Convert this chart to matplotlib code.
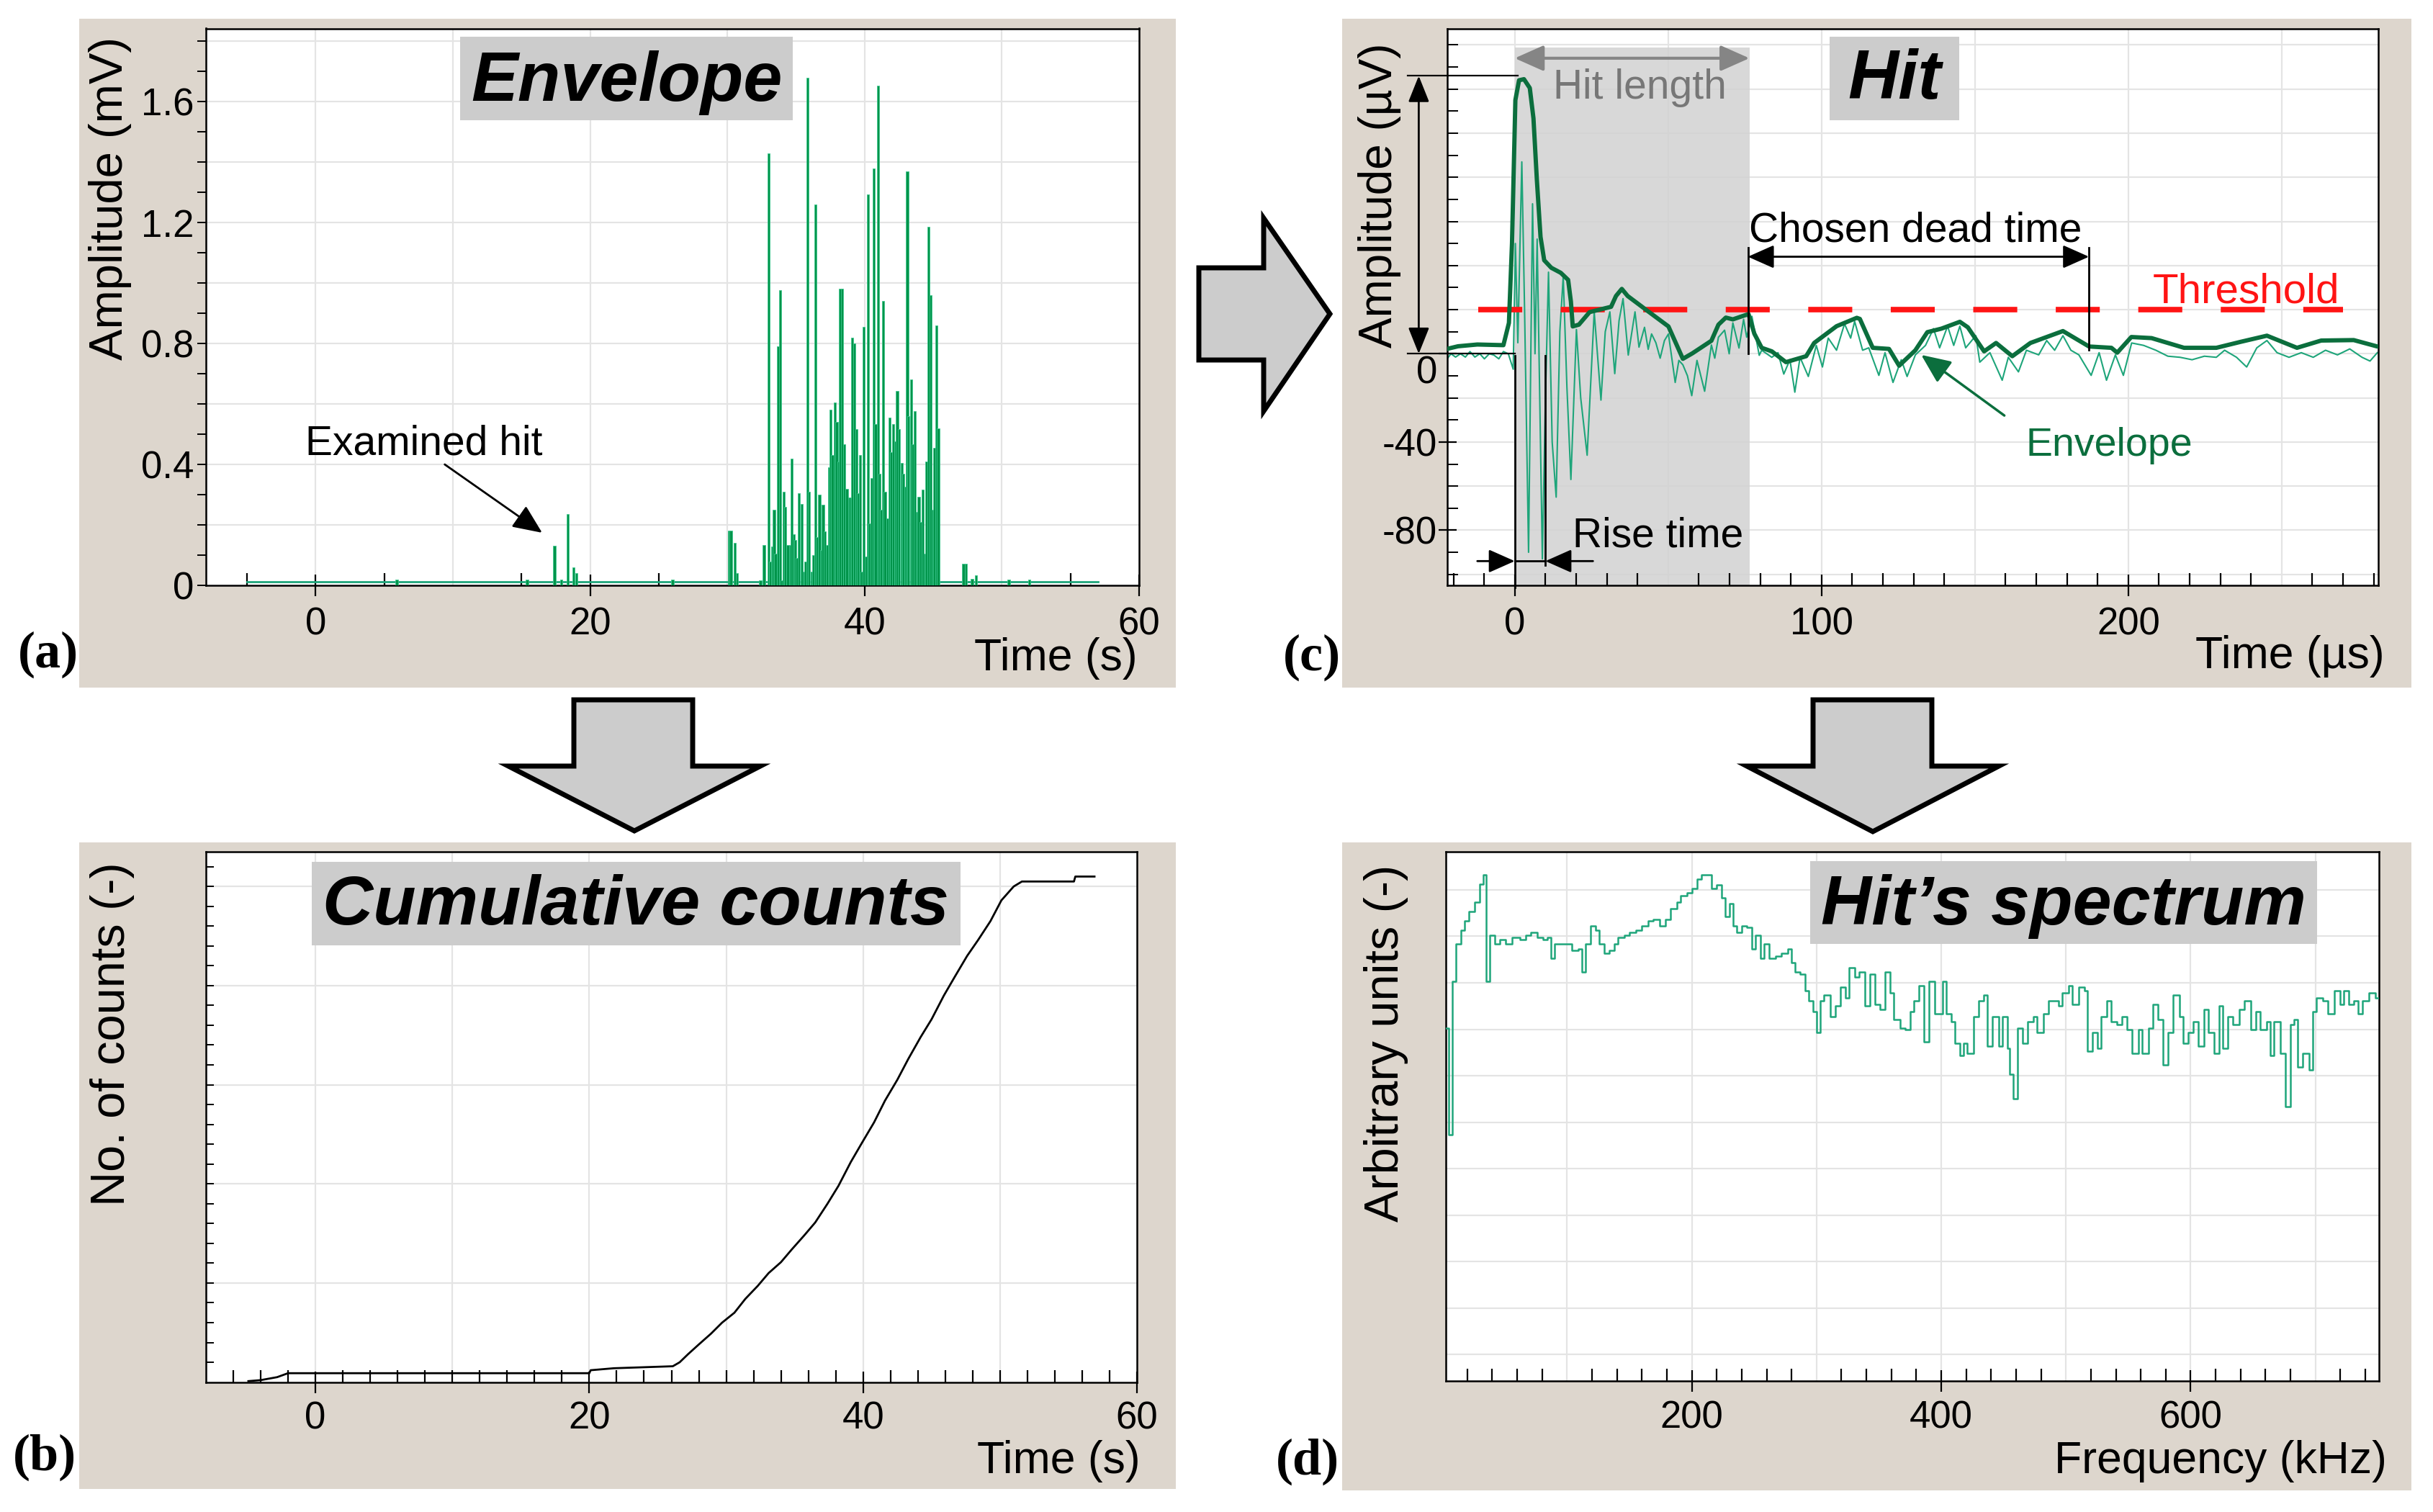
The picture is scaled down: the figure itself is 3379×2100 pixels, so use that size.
import numpy as np
import matplotlib.pyplot as plt
from matplotlib.patches import Rectangle, Polygon
from matplotlib.ticker import FixedLocator, NullFormatter
from matplotlib.transforms import blended_transform_factory

plt.rcParams['font.family'] = ['Liberation Sans', 'DejaVu Sans']

# ---------------- data ----------------
# (a) envelope: spike time (s), peak amplitude (mV)
env_spikes = [
    (5.9, 0.02), (15.4, 0.02), (17.4, 0.13), (17.9, 0.02), (18.36, 0.235), (18.8, 0.06),
    (19.0, 0.04), (26.0, 0.02),
    (30.1, 0.18), (30.25, 0.18), (30.55, 0.14), (30.7, 0.04), (32.4, 0.017), (32.66, 0.133),
    (32.99, 1.43), (33.1, 0.078), (33.25, 0.128), (33.4, 0.25), (33.5, 0.105), (33.7, 0.79),
    (33.83, 0.977), (33.95, 0.017), (34.1, 0.31), (34.2, 0.26), (34.4, 0.133), (34.57, 0.133),
    (34.7, 0.42), (34.83, 0.17), (34.96, 0.15), (35.08, 0.09), (35.2, 0.305), (35.4, 0.27),
    (35.57, 0.045), (35.7, 0.078), (35.84, 1.678), (35.96, 0.31), (36.14, 0.045), (36.26, 0.1),
    (36.4, 1.26), (36.52, 0.16), (36.7, 0.30), (36.83, 0.117), (36.96, 0.267), (37.1, 0.178),
    (37.25, 0.133), (37.4, 0.39), (37.53, 0.58), (37.65, 0.43), (37.83, 0.605), (37.96, 0.54),
    (38.09, 0.41), (38.22, 0.98), (38.36, 0.98), (38.5, 0.466), (38.7, 0.32), (38.87, 0.29),
    (38.99, 0.29), (39.1, 0.82), (39.25, 0.80), (39.4, 0.516), (39.5, 0.305), (39.65, 0.43),
    (39.8, 0.045), (39.93, 0.855), (40.09, 0.095), (40.23, 1.293), (40.35, 0.205), (40.49, 0.355),
    (40.66, 1.38), (40.8, 0.533), (40.96, 1.653), (41.1, 0.37), (41.2, 0.25), (41.36, 0.94),
    (41.48, 0.31), (41.65, 0.222), (41.8, 0.555), (41.95, 0.44), (42.09, 0.533), (42.23, 0.477),
    (42.37, 0.644), (42.52, 0.516), (42.7, 0.405), (42.83, 0.37), (42.96, 0.327), (43.1, 1.37),
    (43.2, 0.56), (43.4, 0.68), (43.53, 0.466), (43.65, 0.577), (43.8, 0.244), (43.95, 0.294),
    (44.09, 0.21), (44.23, 0.316), (44.38, 0.105), (44.52, 0.41), (44.66, 1.185), (44.8, 0.96),
    (44.96, 0.25), (45.1, 0.455), (45.22, 0.86), (45.36, 0.52),
    (47.2, 0.072), (47.4, 0.072), (47.83, 0.022), (48.1, 0.033), (50.5, 0.02), (52.0, 0.02),
]
env_floor = 0.011
env_span = (-5, 57)

# (b) cumulative counts: time (s), counts (arb.)
cum_counts = [
    (-4.9, 1), (-4.0, 2), (-2.8, 5), (-2.0, 9), (20.0, 9), (20.1, 12), (21.8, 14), (26.1, 16),
    (26.6, 20), (27.2, 28), (28.0, 38), (28.9, 49), (29.7, 60), (30.6, 70), (31.4, 84),
    (32.3, 97), (33.1, 110), (34.0, 121), (34.8, 134), (35.7, 148), (36.5, 161), (37.4, 180),
    (38.2, 198), (39.1, 222), (39.9, 241), (40.8, 262), (41.6, 284), (42.5, 305), (43.3, 326),
    (44.2, 348), (45.0, 366), (45.9, 390), (46.7, 409), (47.6, 430), (48.4, 446), (49.3, 465),
    (50.1, 486), (51.0, 500), (51.6, 505), (55.4, 505), (55.5, 510), (56.9, 510),
]

# (c) hit: raw waveform and its envelope, time (us), amplitude (uV)
hit_raw = [
    (-22.4, -3), (-20.8, 0), (-19.3, -1.5), (-17.7, 0), (-16.1, -1.5), (-14.6, 1), (-13.0, -1.5),
    (-11.4, 0), (-9.9, -2.3), (-8.3, 0), (-6.8, -0.6), (-5.2, -2.3), (-3.7, 1), (-2.1, 0),
    (-0.5, -7), (0.2, 50), (1.0, 5), (2.3, 87), (3.2, 20), (4.5, -90), (5.8, 68), (6.6, 0),
    (7.3, 52), (9.0, -93), (10.0, -20), (11.0, 37), (12.2, -40), (13.5, -65), (14.7, 10),
    (15.8, 35), (17.0, -15), (18.3, -57), (20.1, 11), (21.5, -20), (23.6, -46), (25.9, 19),
    (28.1, -21), (29.5, 10), (31.0, 19), (32.6, -9), (34.0, 15), (35.3, 25), (37.0, -0.6),
    (39.2, 19), (40.5, 3), (42.3, 12), (43.5, 2), (44.6, 9), (46.0, 5), (47.4, -2), (48.8, 6),
    (50.1, 9), (52.3, -13), (53.5, -3), (54.8, -5), (56.3, -10), (57.7, -19), (59.4, -3),
    (61.9, -17), (64.1, 4), (65.2, -2), (66.4, 7.5), (68.4, 10.7), (69.9, 0), (71.1, 14),
    (73.1, 2.6), (74.6, 15.6), (75.6, 7.5), (77.3, 17), (79.7, -0.7),
    (80.5, 1.6), (83.8, -1.6), (85.8, 0.5), (87.7, -9.2), (89.7, -2.7), (91.3, -17.4),
    (93.0, -1.6), (95.7, -10.3), (98.3, 3.8), (100.3, -6), (102.2, 7.1), (104.9, 1.6),
    (107.5, 13.6), (109.5, 7.1), (110.8, 14.7), (113.4, 1.6), (115.4, 2.7), (118.7, -9.8),
    (120.7, 0.5), (123.3, -13), (126.0, -2.7), (127.9, -10.3), (130.6, -0.5), (133.9, 3.8),
    (136.5, 11.4), (138.5, 2.7), (141.1, 12.5), (143.1, 3.8), (145.1, 12.5), (147.0, 2.7),
    (150.3, 8.2), (151.6, -3.8), (154.9, 0.5), (158.9, -12), (160.9, -1.6), (164.2, -8.2),
    (166.8, 1.6), (170.8, -0.5), (173.4, 6), (176.0, 1.6), (178.7, 8.2), (181.3, 1.6),
    (183.9, -0.5), (187.9, -9.8), (190.5, 0.5), (192.9, -12), (195.8, -0.5), (198.4, -9.8),
    (201.1, 4.9), (205.0, 3.8), (209.0, 1.6), (212.9, -1.1), (216.9, -1.6), (220.8, -2.7),
    (224.8, -1.1), (228.7, -1.6), (231.4, 1.6), (235.3, -1.6), (238.6, -6), (241.9, 2.7),
    (245.2, 6), (248.5, 0.5), (252.4, -1.6), (256.4, 0.5), (260.3, -1.6), (264.3, 1.6),
    (268.2, -0.5), (272.2, 2.2), (276.2, -1.6), (278.8, -3.3), (281.2, 0.5),
]
hit_env = [
    (-22.4, 2.1), (-18.5, 3.4), (-12.2, 4.2), (-3.7, 3.9), (-1.9, 14), (-0.9, 50), (0.2, 115),
    (1.4, 124), (3.0, 124.5), (4.9, 120.5), (6.1, 106.7), (7.2, 79), (8.4, 53), (9.6, 42.4),
    (11.9, 39), (15.0, 36.7), (17.4, 33.5), (18.3, 23.7), (18.9, 12.4), (20.9, 13.2),
    (24.4, 18.9), (31.4, 21.3), (33.0, 26.2), (34.9, 29.4), (36.8, 26.2), (43.8, 18.9),
    (50.1, 12.4), (54.8, -2.3), (57.9, 0.2), (64.1, 5.9), (66.4, 13.2), (68.8, 16.4),
    (71.1, 15.6), (76.2, 18), (78.1, 9.1), (80.5, 2.7), (83.8, 1.1), (88.4, -3.8), (95.0, -1.1),
    (97.6, 4.9), (104.9, 12.5), (111.5, 16.3), (112.5, 15.8), (116.7, 2.7), (122.0, 2.2),
    (125.3, -5.4), (130.6, 1.6), (134.5, 9.8), (139.1, 11.4), (145.1, 14.5), (147.7, 12),
    (153.0, 1.1), (156.9, 4.9), (162.2, -1.1), (168.1, 4.9), (178.7, 10.3), (187.2, 3.3),
    (194.5, 2.7), (196.4, 0.5), (201.0, 7.6), (207.6, 7.1), (218.2, 2.7), (228.7, 2.7),
    (236.6, 5.4), (245.2, 8.2), (255.0, 2.7), (262.9, 6.0), (273.5, 6.2), (281.2, 3.3),
]
threshold = 20
threshold_span = (-12, 270)
hit_start, hit_end = 0, 76.5
rise_end = 10
dead_end = 187.2
peak_amp = 126

# (d) hit spectrum: frequency (kHz), magnitude (arb.)
spectrum = [
    (2.8, 76), (5, 53), (8, 86), (11, 94), (15, 97), (18, 99), (21, 101), (26, 103), (30, 107),
    (33, 109), (35, 86), (38, 96), (42, 94), (46, 95), (51, 94), (56, 95.5), (62, 95), (67, 96),
    (71, 96.6), (76, 95.5), (81, 95), (84, 95.5), (87, 91), (90, 94), (96, 94), (100, 94),
    (104, 92.6), (109, 93), (112, 88), (115, 94), (119, 98), (123, 97), (126, 94), (130, 92),
    (134, 92.6), (138, 94), (141, 95.5), (146, 96), (150, 96.6), (155, 97), (160, 98), (165, 99),
    (169, 99.4), (174, 98), (179, 99.4), (183, 101.7), (188, 103), (191, 104.5), (196, 105),
    (200, 106), (204, 108), (208, 109), (212, 109), (216, 106), (220, 106.8), (224, 104),
    (227, 100), (230, 102.8), (233, 98), (236, 96.6), (240, 98), (244, 97.7), (248, 93),
    (251, 96), (255, 91), (258, 94), (262, 91), (267, 91.5), (272, 92), (277, 93), (280, 90),
    (283, 88), (287, 87.5), (291, 84), (294, 81.8), (297, 79.5), (300, 75), (303, 81.8),
    (306, 83), (311, 78.4), (315, 80.7), (319, 84.7), (323, 82.4), (326, 89), (331, 87),
    (334, 88), (339, 80.7), (343, 87.5), (347, 81), (351, 80), (355, 88), (359, 83.5),
    (362, 77.8), (367, 76), (371, 75.6), (375, 79.5), (378, 81.8), (382, 85), (386, 73),
    (390, 86), (395, 79), (401, 86), (404, 79), (408, 77.3), (411, 72.7), (415, 70), (418, 72.7),
    (421, 70.5), (426, 78.4), (430, 81.8), (434, 83), (437, 72), (441, 78.4), (446, 72),
    (449, 78.4), (453, 71.6), (455, 66), (458, 60.8), (461, 76), (465, 72.7), (469, 77.3),
    (474, 78.4), (477, 75), (482, 79), (486, 81.8), (490, 81.8), (494, 80.7), (497, 83.5),
    (502, 85), (505, 81), (510, 84.7), (515, 84), (517, 71), (521, 75), (525, 71.6), (528, 78.4),
    (533, 81.8), (536, 77.3), (541, 76.7), (545, 78.4), (549, 75.6), (553, 70.5), (558, 75.6),
    (561, 70.5), (566, 76), (570, 81), (574, 77.8), (578, 68), (582, 75), (586, 83), (591, 78.4),
    (594, 72.7), (598, 75), (602, 77.3), (606, 72), (611, 80), (614, 75), (619, 70.5),
    (623, 80.7), (626, 71.6), (630, 78.4), (634, 76.7), (639, 80), (643, 81.8), (648, 75.6),
    (652, 79.5), (656, 75.6), (661, 77.3), (664, 70), (667, 77.3), (672, 70.5), (676, 59),
    (680, 76.7), (683, 77.8), (686, 67.6), (690, 70.5), (695, 67), (698, 79.5), (701, 82.4),
    (706, 81.8), (710, 79), (715, 84), (720, 81), (723, 84), (727, 81), (731, 81.8), (734, 79),
    (738, 81.8), (743, 83.5), (748, 82.4), (751, 82.4),
]

# ---------------- layout helpers (pixel coords of a 3380x2100 canvas) ----------------
W, H = 3380, 2100
BEIGE = '#ddd6cd'
BOXGRAY = '#cccccc'
GRID = '#e4e4e4'
TEAL = '#1ea57a'
DARKGREEN = '#0b6e3d'


def fx(x):
    return x / W


def fy(y):
    return 1 - y / H


def rect(x0, y0, x1, y1):
    return [fx(x0), fy(y1), fx(x1) - fx(x0), fy(y0) - fy(y1)]


fig = plt.figure(figsize=(W / 100, H / 100), dpi=100)
fig.patch.set_facecolor('white')

# beige panel backgrounds
for x0, y0, x1, y1 in [(110, 26, 1633, 955), (110, 1170, 1633, 2068),
                       (1864, 26, 3349, 955), (1864, 1170, 3349, 2070)]:
    fig.add_artist(Rectangle((fx(x0), fy(y1)), fx(x1) - fx(x0), fy(y0) - fy(y1),
                             transform=fig.transFigure, facecolor=BEIGE,
                             edgecolor='none', zorder=-5))

ax_a = fig.add_axes(rect(286, 39.5, 1582, 813))
ax_b = fig.add_axes(rect(286, 1183, 1579, 1919.6))
ax_c = fig.add_axes(rect(2010, 39.5, 3303, 813))
ax_d = fig.add_axes(rect(2008, 1183, 3304, 1918))


def frame(ax):
    ax.set_facecolor('white')
    for s in ax.spines.values():
        s.set_linewidth(1.8)
        s.set_color('black')


def grid(ax, xs, ys):
    for g in xs:
        ax.axvline(g, color=GRID, lw=1.6, zorder=0.5)
    for g in ys:
        ax.axhline(g, color=GRID, lw=1.6, zorder=0.5)


def xticks(ax, major, minor, pad):
    ax.xaxis.set_major_locator(FixedLocator(major))
    ax.xaxis.set_minor_locator(FixedLocator(minor))
    ax.tick_params(axis='x', which='major', direction='inout', length=22, width=1.6,
                   labelsize=38, pad=pad)
    ax.tick_params(axis='x', which='minor', direction='in', length=12, width=1.6)


for ax in (ax_a, ax_b, ax_c, ax_d):
    frame(ax)

# ---------------- (a) envelope ----------------
t_a, a_a = np.array(env_spikes).T
ax_a.set_xlim(-8, 60)
ax_a.set_ylim(0, 1.842)
grid(ax_a, np.arange(0, 60, 10), np.arange(0.2, 1.81, 0.2))
ax_a.plot(env_span, [env_floor, env_floor], color=TEAL, lw=2, zorder=2)
ax_a.bar(t_a, a_a, width=0.17, color='#00944a', edgecolor='#40c890', linewidth=0.6, zorder=3)
xticks(ax_a, [0, 20, 40, 60], [-5, 5, 15, 25, 35, 45, 55], pad=10)
ax_a.set_xticklabels(['0', '20', '40', '60'])
ax_a.yaxis.set_major_locator(FixedLocator([0, 0.4, 0.8, 1.2, 1.6]))
ax_a.yaxis.set_minor_locator(FixedLocator(np.arange(0.1, 1.81, 0.1)))
ax_a.set_yticklabels(['0', '0.4', '0.8', '1.2', '1.6'])
ax_a.tick_params(axis='y', which='both', direction='out', length=9, width=1.4,
                 labelsize=38, pad=3)
ax_a.text(7.9, 0.433, 'Examined hit', fontsize=41, ha='center', va='baseline')
ax_a.annotate('', xy=(16.5, 0.174), xytext=(9.4, 0.40),
              arrowprops=dict(arrowstyle='-|>,head_length=0.5,head_width=0.22',
                              mutation_scale=50, color='black', lw=2,
                              shrinkA=0, shrinkB=0))

# ---------------- (b) cumulative counts ----------------
t_b, n_b = np.array(cum_counts).T
ax_b.set_xlim(-8, 60)
ax_b.set_ylim(0, 535)
grid(ax_b, np.arange(0, 60, 10), np.arange(100, 501, 100))
ax_b.plot(t_b, n_b, color='black', lw=2, zorder=3)
xticks(ax_b, [0, 20, 40, 60], [g for g in range(-6, 60, 2) if g % 20 != 0], pad=8)
ax_b.set_xticklabels(['0', '20', '40', '60'])
ax_b.yaxis.set_major_locator(FixedLocator(np.arange(20, 535, 20)))
ax_b.yaxis.set_major_formatter(NullFormatter())
ax_b.tick_params(axis='y', which='both', direction='in', length=8, width=1.4)

# ---------------- (c) hit ----------------
t_r, v_r = np.array(hit_raw).T
t_e, v_e = np.array(hit_env).T
ax_c.set_xlim(-22, 281.5)
ax_c.set_ylim(-105, 147.5)
grid(ax_c, np.arange(0, 281, 50), np.arange(-100, 141, 20))
ax_c.fill_between([hit_start, hit_end], -106, 139, color='#d2d2d2', alpha=0.85,
                  lw=0, zorder=1)
ax_c.plot(t_r, v_r, color=TEAL, lw=1.5, zorder=2)
ax_c.plot(threshold_span, [threshold, threshold], color='#ff1414', lw=5.5,
          dashes=(8, 7), zorder=3)
ax_c.plot(t_e, v_e, color=DARKGREEN, lw=4.3, solid_joinstyle='round',
          solid_capstyle='round', zorder=4)
xticks(ax_c, [0, 100, 200], [g for g in range(-20, 282, 10) if g % 50 != 0], pad=10)
ax_c.set_xticklabels(['0', '100', '200'])
ax_c.yaxis.set_major_locator(FixedLocator([-80, -40, 0]))
ax_c.yaxis.set_minor_locator(FixedLocator(np.arange(-100, 141, 10)))
ax_c.set_yticklabels(['-80', '-40', ''])
ax_c.tick_params(axis='y', which='major', direction='inout', length=18, width=1.6,
                 labelsize=38, pad=1)
ax_c.tick_params(axis='y', which='minor', direction='in', length=11, width=1.4)
bt = blended_transform_factory(ax_c.transAxes, ax_c.transData)
ax_c.text(-0.011, -8.8, '0', transform=bt, fontsize=38, ha='right', va='center')

# hit length
ax_c.annotate('', xy=(hit_end, 134), xytext=(hit_start, 134),
              arrowprops=dict(arrowstyle='<|-|>,head_length=0.45,head_width=0.2',
                              mutation_scale=55, color='#858585', lw=3,
                              shrinkA=0, shrinkB=0), zorder=6)
ax_c.text(40.7, 115.7, 'Hit length', fontsize=41, color='#777777', ha='center',
          va='baseline', zorder=6)
# amplitude marker
ax_c.plot([-35, 1], [peak_amp, peak_amp], color='black', lw=1.6, clip_on=False, zorder=6)
ax_c.plot([-35, 0], [0, 0], color='black', lw=1.6, clip_on=False, zorder=6)
ax_c.annotate('', xy=(-31.3, peak_amp), xytext=(-31.3, 0), annotation_clip=False,
              arrowprops=dict(arrowstyle='<|-|>,head_length=0.45,head_width=0.18',
                              mutation_scale=50, color='black', lw=2,
                              shrinkA=0, shrinkB=0), zorder=6)
# rise time
ax_c.plot([hit_start, hit_start], [-1, -106], color='black', lw=2, clip_on=False, zorder=6)
ax_c.plot([rise_end, rise_end], [-1, -96], color='black', lw=2, zorder=6)
ax_c.plot([hit_start, rise_end], [-94, -94], color='black', lw=2, zorder=6)
for x0, x1 in [(-12.2, hit_start), (25.5, rise_end)]:
    ax_c.annotate('', xy=(x1, -94), xytext=(x0, -94),
                  arrowprops=dict(arrowstyle='-|>,head_length=0.45,head_width=0.2',
                                  mutation_scale=50, color='black', lw=2,
                                  shrinkA=0, shrinkB=0), zorder=6)
ax_c.text(18.8, -87.6, 'Rise time', fontsize=41, ha='left', va='baseline', zorder=6)
# dead time
ax_c.plot([hit_end - 0.5, hit_end - 0.5], [0, 48], color='black', lw=2, zorder=6)
ax_c.plot([dead_end, dead_end], [1.6, 48], color='black', lw=2, zorder=6)
ax_c.annotate('', xy=(dead_end, 44), xytext=(hit_end - 0.5, 44),
              arrowprops=dict(arrowstyle='<|-|>,head_length=0.45,head_width=0.2',
                              mutation_scale=50, color='black', lw=2,
                              shrinkA=0, shrinkB=0), zorder=6)
ax_c.text(130.7, 51, 'Chosen dead time', fontsize=41, ha='center', va='baseline', zorder=6)
ax_c.text(269, 23.2, 'Threshold', fontsize=42, color='#ff1414', ha='right',
          va='baseline', zorder=6)
ax_c.annotate('', xy=(132.5, -0.5), xytext=(159.6, -28),
              arrowprops=dict(arrowstyle='-|>,head_length=0.5,head_width=0.22',
                              mutation_scale=50, color=DARKGREEN, lw=2.5,
                              shrinkA=0, shrinkB=0), zorder=6)
ax_c.text(193.7, -46.4, 'Envelope', fontsize=40, color=DARKGREEN, ha='center',
          va='baseline', zorder=6)

# ---------------- (d) spectrum ----------------
f_d, s_d = np.array(spectrum).T
ax_d.set_xlim(2.8, 751)
ax_d.set_ylim(0, 113.9)
grid(ax_d, np.arange(100, 751, 100), np.arange(5.7, 113, 10))
ax_d.plot(f_d, s_d, color=TEAL, lw=1.8, drawstyle='steps-post', zorder=3)
xticks(ax_d, [200, 400, 600], [g for g in range(20, 751, 20) if g % 100 != 0], pad=8)
ax_d.set_xticklabels(['200', '400', '600'])
ax_d.set_yticks([])

# ---------------- titles in grey boxes ----------------
titles = [('Envelope', (639, 51, 1101, 167), 140),
          ('Hit', (2541, 51, 2721, 167), 137),
          ('Cumulative counts', (433, 1197, 1334, 1313), 1284),
          ('Hit\u2019s spectrum', (2514, 1196, 3218, 1311), 1284)]
for txt, (x0, y0, x1, y1), base in titles:
    fig.add_artist(Rectangle((fx(x0), fy(y1)), fx(x1) - fx(x0), fy(y0) - fy(y1),
                             transform=fig.transFigure, facecolor=BOXGRAY,
                             edgecolor='none', zorder=2))
    fig.text(fx((x0 + x1) / 2), fy(base), txt, fontsize=70, fontweight='bold',
             fontstyle='italic', ha='center', va='baseline', zorder=3)

# ---------------- axis labels ----------------
fig.text(fx(1580), fy(931), 'Time (s)', fontsize=45, ha='right', va='baseline')
fig.text(fx(1584), fy(2046), 'Time (s)', fontsize=45, ha='right', va='baseline')
fig.text(fx(3312), fy(928), 'Time (\u00b5s)', fontsize=45, ha='right', va='baseline')
fig.text(fx(3315), fy(2046), 'Frequency (kHz)', fontsize=45, ha='right', va='baseline')
fig.text(fx(153), fy(276), 'Amplitude (mV)', fontsize=47, rotation=90, ha='center', va='center')
fig.text(fx(156), fy(1436), 'No. of counts (-)', fontsize=48, rotation=90, ha='center', va='center')
fig.text(fx(1916), fy(271), 'Amplitude (\u00b5V)', fontsize=46, rotation=90, ha='center',
         va='center', zorder=3)
fig.text(fx(1925), fy(1449), 'Arbitrary units (-)', fontsize=48, rotation=90, ha='center',
         va='center')

for lab, (x, y) in [('(a)', (67, 909)), ('(b)', (62, 2024)), ('(c)', (1822, 913)),
                    ('(d)', (1816, 2030))]:
    fig.text(fx(x), fy(y), lab, fontsize=52, fontweight='bold', ha='center', va='center',
             family=['Liberation Serif', 'DejaVu Serif'])

# ---------------- block arrows between panels ----------------
arrows = [
    [(1665, 372), (1755, 372), (1755, 303), (1847, 436), (1755, 571), (1755, 500), (1665, 500)],
    [(797, 972), (962, 972), (962, 1064), (1056, 1064), (881, 1154), (706, 1064), (797, 1064)],
    [(2518, 972), (2683, 972), (2683, 1064), (2776, 1064), (2601, 1155), (2426, 1064), (2518, 1064)],
]
for pts in arrows:
    fig.add_artist(Polygon([(fx(x), fy(y)) for x, y in pts], closed=True,
                           transform=fig.transFigure, facecolor=BOXGRAY,
                           edgecolor='black', lw=5, joinstyle='miter', zorder=2))

fig.savefig('out.png', dpi=100)
